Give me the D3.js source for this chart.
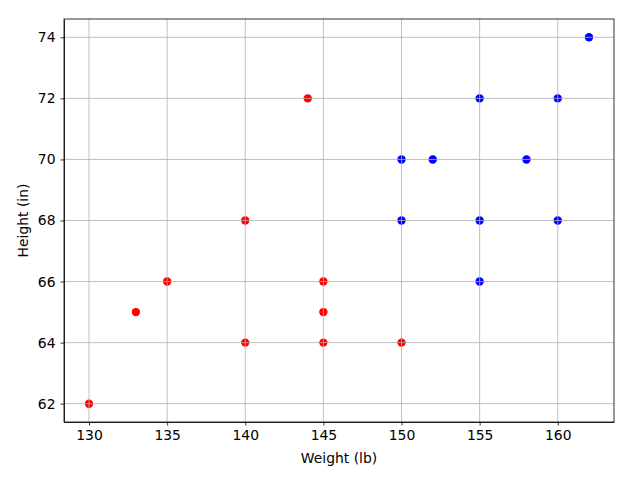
<!DOCTYPE html>
<html lang="en">
<head>
    <meta charset="UTF-8">
    <title>Weight vs Height</title>
    <script src="https://d3js.org/d3.v7.min.js"></script>
    <style>
        body { margin: 0; background: #fff; }
        text { font-family: 'DejaVu Sans', sans-serif; font-size: 13.9px; fill: #000; }
        .grid line { stroke: #b0b0b0; stroke-width: 0.8px; }
        .axis path, .axis line { stroke: #000; stroke-width: 0.8px; }
    </style>
</head>
<body>
    <div id="chart"></div>
    <script>
        // red group
        const redWeight = [130, 133, 135, 140, 140, 144, 145, 145, 145, 150];
        const redHeight = [62, 65, 66, 68, 64, 72, 66, 65, 64, 64];
        // blue group
        const blueWeight = [150, 150, 152, 155, 155, 155, 158, 160, 160, 162];
        const blueHeight = [70, 68, 70, 72, 68, 66, 70, 72, 68, 74];

        const xTicks = [130, 135, 140, 145, 150, 155, 160];
        const yTicks = [62, 64, 66, 68, 70, 72, 74];

        const W = 640, H = 480;
        const margin = {top: 19, right: 26, bottom: 58, left: 64};

        const svg = d3.select("#chart").append("svg")
            .attr("width", W)
            .attr("height", H);

        const x = d3.scaleLinear().domain([128.4, 163.6]).range([margin.left, W - margin.right]);
        const y = d3.scaleLinear().domain([61.4, 74.6]).range([H - margin.bottom, margin.top]);

        const points = redWeight.map((w, i) => ({w: w, h: redHeight[i], c: "red"}))
            .concat(blueWeight.map((w, i) => ({w: w, h: blueHeight[i], c: "blue"})));

        svg.selectAll("circle.pt")
            .data(points)
            .enter()
            .append("circle")
            .attr("class", "pt")
            .attr("cx", d => x(d.w))
            .attr("cy", d => y(d.h))
            .attr("r", 4.2)
            .attr("fill", d => d.c);

        // grid on top of the markers, like the original
        const grid = svg.append("g").attr("class", "grid");
        grid.selectAll("line.gx")
            .data(xTicks)
            .enter()
            .append("line")
            .attr("x1", d => x(d)).attr("x2", d => x(d))
            .attr("y1", y.range()[1]).attr("y2", y.range()[0]);
        grid.selectAll("line.gy")
            .data(yTicks)
            .enter()
            .append("line")
            .attr("y1", d => y(d)).attr("y2", d => y(d))
            .attr("x1", x.range()[0]).attr("x2", x.range()[1]);

        const xAxis = svg.append("g")
            .attr("class", "axis")
            .attr("transform", `translate(0,${H - margin.bottom})`)
            .call(d3.axisBottom(x).tickValues(xTicks).tickSize(3.5).tickPadding(5).tickSizeOuter(0));
        const yAxis = svg.append("g")
            .attr("class", "axis")
            .attr("transform", `translate(${margin.left},0)`)
            .call(d3.axisLeft(y).tickValues(yTicks).tickSize(3.5).tickPadding(5).tickSizeOuter(0));
        svg.selectAll(".axis text").attr("font-size", null).attr("font-family", null);

        // frame
        svg.append("rect")
            .attr("x", margin.left).attr("y", margin.top)
            .attr("width", W - margin.left - margin.right)
            .attr("height", H - margin.top - margin.bottom)
            .attr("fill", "none")
            .attr("stroke", "#000")
            .attr("stroke-width", 0.8);

        svg.append("text")
            .attr("x", (margin.left + W - margin.right) / 2)
            .attr("y", 463)
            .attr("text-anchor", "middle")
            .text("Weight (lb)");

        svg.append("text")
            .attr("transform", `translate(28,${(margin.top + H - margin.bottom) / 2}) rotate(-90)`)
            .attr("text-anchor", "middle")
            .text("Height (in)");
    </script>
</body>
</html>
